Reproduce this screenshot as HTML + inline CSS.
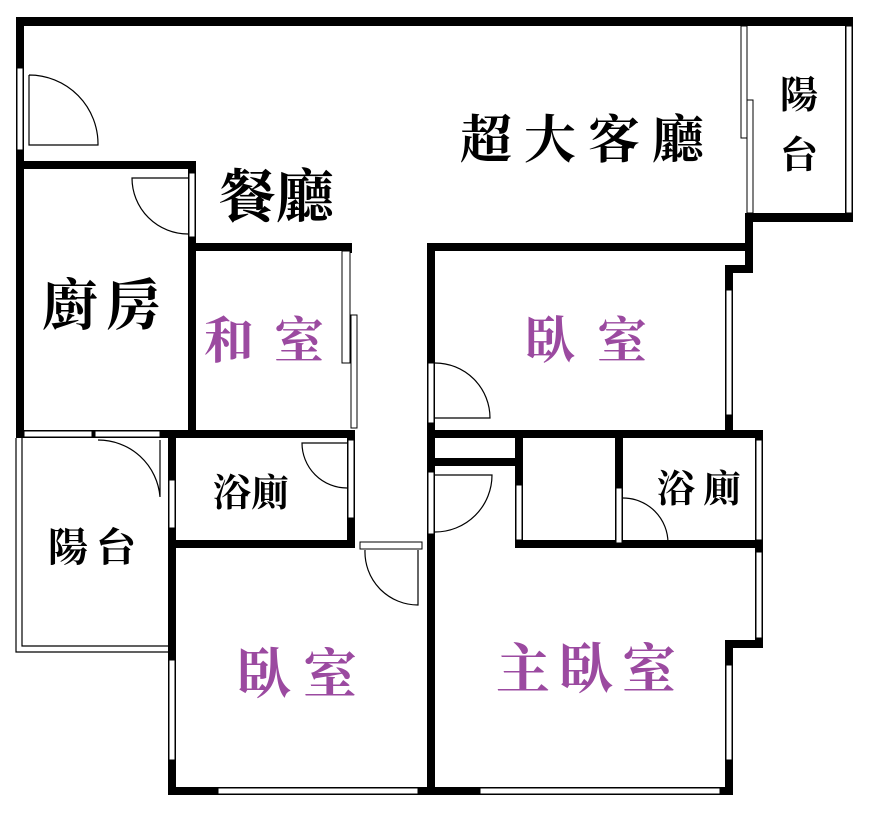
<!DOCTYPE html>
<html><head><meta charset="utf-8"><style>
html,body{margin:0;padding:0;background:#fff;}
svg{display:block}
text{font-family:"Liberation Serif","Noto Serif CJK TC","Noto Serif CJK SC",serif;font-weight:bold;}
.p{fill:#9b4aa0}
</style></head><body>
<svg width="878" height="814" viewBox="0 0 878 814" xmlns="http://www.w3.org/2000/svg">
<rect width="878" height="814" fill="#fff"/>
<g fill="#000">
<rect x="16" y="17" width="837" height="9"/>
<rect x="16" y="17" width="8" height="421"/>
<rect x="16" y="161" width="180" height="8"/>
<rect x="188" y="161" width="8" height="277"/>
<rect x="188" y="243" width="164" height="8"/>
<rect x="344" y="243" width="8" height="10"/>
<rect x="16" y="430" width="339" height="8"/>
<rect x="427" y="430" width="336" height="8"/>
<rect x="168" y="430" width="8" height="365"/>
<rect x="347" y="430" width="8" height="118"/>
<rect x="168" y="540" width="187" height="8"/>
<rect x="427" y="243" width="8" height="552"/>
<rect x="427" y="243" width="326" height="8"/>
<rect x="745" y="215" width="8" height="58"/>
<rect x="725" y="265" width="28" height="8"/>
<rect x="725" y="265" width="8" height="173"/>
<rect x="745" y="213" width="108" height="9"/>
<rect x="845" y="17" width="8" height="205"/>
<rect x="427" y="458" width="96" height="8"/>
<rect x="515" y="430" width="8" height="118"/>
<rect x="615" y="430" width="8" height="118"/>
<rect x="515" y="540" width="248" height="8"/>
<rect x="755" y="430" width="8" height="218"/>
<rect x="725" y="640" width="38" height="8"/>
<rect x="725" y="640" width="8" height="155"/>
<rect x="168" y="787" width="565" height="8"/>
</g>
<g fill="#fff" stroke="#000" stroke-width="1">
<rect x="17" y="68" width="6" height="82"/>
<rect x="189" y="173" width="6" height="64"/>
<rect x="342" y="251" width="8" height="112"/>
<rect x="351" y="315" width="6" height="113"/>
<rect x="741" y="26" width="6" height="112"/>
<rect x="747" y="100" width="6" height="113"/>
<rect x="846" y="26" width="6" height="187"/>
<rect x="726" y="290" width="6" height="125"/>
<rect x="428" y="363" width="6" height="60"/>
<rect x="24" y="431" width="68" height="6"/>
<rect x="95" y="431" width="65" height="6"/>
<rect x="169" y="480" width="6" height="48"/>
<rect x="348" y="440" width="6" height="78"/>
<rect x="360" y="542" width="62" height="7"/>
<rect x="428" y="472" width="6" height="62"/>
<rect x="516" y="485" width="6" height="55"/>
<rect x="616" y="488" width="6" height="55"/>
<rect x="756" y="440" width="6" height="100"/>
<rect x="756" y="552" width="6" height="86"/>
<rect x="169" y="660" width="6" height="100"/>
<rect x="726" y="665" width="6" height="95"/>
<rect x="218" y="788" width="200" height="6"/>
<rect x="480" y="788" width="240" height="6"/>
</g>
<g fill="none" stroke="#000" stroke-width="1.2">
<polyline points="16,438 16,652 168,652"/>
<polyline points="22,438 22,646 168,646"/>
<path d="M29,75 A69,69 0 0 1 98,145 H29 V75"/>
<path d="M188,178 H132 A56,56 0 0 0 188,234"/>
<path d="M98,440 A62,62 0 0 1 160,497 V440"/>
<path d="M347,443 H302 A45,45 0 0 0 347,488"/>
<path d="M418,550 V605 A53,53 0 0 1 365,550"/>
<path d="M435,363 A55,55 0 0 1 490,418 H435"/>
<path d="M435,475 H492 A57,57 0 0 1 435,532"/>
<path d="M623,543 H668 A45,45 0 0 0 623,498"/>
</g>
<text x="460" y="158" font-size="52" fill="#000" letter-spacing="12">超大客廳</text>
<text x="780" y="108" font-size="38" fill="#000">陽</text>
<text x="780" y="168" font-size="38" fill="#000">台</text>
<text x="218" y="217" font-size="58" fill="#000">餐廳</text>
<text x="42" y="325" font-size="56" fill="#000" letter-spacing="8">廚房</text>
<text x="204" y="358" font-size="50" class="p" letter-spacing="20">和室</text>
<text x="525" y="358" font-size="50" class="p" letter-spacing="22">臥室</text>
<text x="213" y="506" font-size="38" fill="#000" font-weight="normal">浴廁</text>
<text x="657" y="502" font-size="38" fill="#000" font-weight="normal" letter-spacing="8">浴廁</text>
<text x="48" y="561" font-size="40" fill="#000" font-weight="normal" letter-spacing="8">陽台</text>
<text x="237" y="693" font-size="54" class="p" letter-spacing="12">臥室</text>
<text x="496" y="688" font-size="54" class="p" letter-spacing="9">主臥室</text>
</svg>
</body></html>
